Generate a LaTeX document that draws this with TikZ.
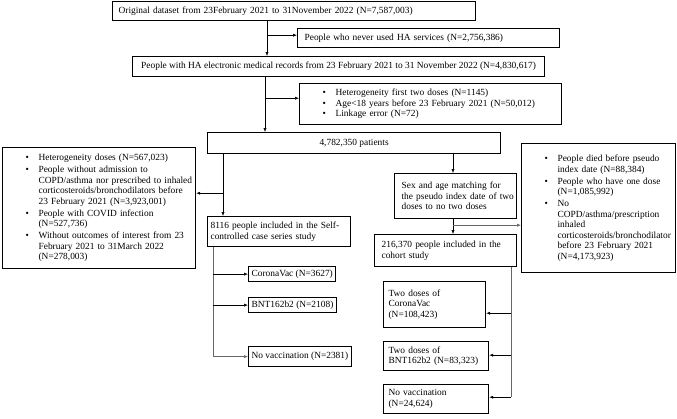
\documentclass[tikz,border=0pt]{standalone}
\usepackage{fontspec}
\setmainfont{Liberation Serif}
\usetikzlibrary{arrows.meta}
\tikzset{flow box/.style={draw,line width=1.2pt,rectangle,anchor=north west,inner xsep=6pt,inner ysep=1pt,align=left,font=\fontsize{9.4}{10.5}\selectfont},
    one line/.style={flow box,align=center},
    link/.style={line width=0.6pt},
    soft link/.style={line width=0.6pt,black!60},}
\newcommand{\bul}[1]{\mbox{\hspace*{17pt}\makebox[13pt][l]{\textbullet}#1}}
\newcommand{\bcont}[1]{\mbox{\hspace*{30pt}#1}}

\begin{document}
\begin{tikzpicture}[x=1pt,y=-1pt,>={Latex[length=4pt,width=3.2pt]}]
    \useasboundingbox (0,0) rectangle (677,418);

    % top of the flow
    \node[flow box,text width=351pt,minimum height=19pt] (orig) at (112,1) {Original dataset from 23February 2021 to 31November 2022 (N=7,587,003)};
    \node[flow box,text width=248pt,inner xsep=7pt,minimum height=19pt] (never) at (297,28) {People who never used HA services (N=2,756,386)};
    \node[one line,minimum width=412pt,minimum height=20pt] (ha) at (132,56) {People with HA electronic medical records from 23 February 2021 to 31 November 2022 (N=4,830,617)};
    \node[flow box,text width=250pt,minimum height=41pt] (excl) at (299,83) {\bul{Heterogeneity first two doses (N=1145)}\\
        \bul{Age<18 years before 23 February 2021 (N=50,012)}\\
        \bul{Linkage error (N=72)}};
    \node[one line,minimum width=293pt,minimum height=21pt] (pat) at (207,132) {4,782,350 patients};

    % exclusions at the sides
    \node[flow box,text width=181pt,minimum height=121pt] (leftx) at (2,147) {\bul{Heterogeneity doses (N=567,023)}\\[1.5pt]
        \bul{People without admission to}\\
        \bcont{COPD/asthma nor prescribed to inhaled}\\
        \bcont{corticosteroids/bronchodilators before}\\
        \bcont{23 February 2021 (N=3,923,001)}\\[1.5pt]
        \bul{People with COVID infection}\\
        \bcont{(N=527,736)}\\[1.5pt]
        \bul{Without outcomes of interest from 23}\\
        \bcont{February 2021 to 31March 2022}\\
        \bcont{(N=278,003)}};
    \node[flow box,text width=142pt,minimum height=129pt] (rightx) at (521,143) {\bul{People died before pseudo}\\
        \bcont{index date (N=88,384)}\\[1.5pt]
        \bul{People who have one dose}\\
        \bcont{(N=1,085,992)}\\[1.5pt]
        \bul{No}\\
        \bcont{COPD/asthma/prescription}\\
        \bcont{inhaled}\\
        \bcont{corticosteroids/bronchodilator}\\
        \bcont{before 23 February 2021}\\
        \bcont{(N=4,173,923)}};

    % self-controlled case series
    \node[flow box,text width=137pt,inner xsep=3pt,minimum height=30pt] (sccs) at (207,216) {\mbox{8116 people included in the Self-}\\controlled case series study};
    \node[one line,inner xsep=3pt,minimum width=87pt,minimum height=15pt] (cv) at (248,266) {CoronaVac (N=3627)};
    \node[one line,inner xsep=3pt,minimum width=87pt,minimum height=15pt] (bnt) at (248,297) {BNT162b2 (N=2108)};
    \node[one line,inner xsep=3pt,minimum width=101pt,minimum height=20pt] (nv) at (248,346) {No vaccination (N=2381)};

    % cohort
    \node[flow box,text width=108pt,inner xsep=7pt,minimum height=45pt] (sex) at (394,173) {Sex and age matching for\\\mbox{the pseudo index date of two}\\doses to no two doses};
    \node[flow box,text width=128pt,inner xsep=7pt,minimum height=32pt] (coh) at (374,234) {216,370 people included in the\\cohort study};
    \node[flow box,text width=92pt,inner xsep=5pt,minimum height=46pt] (cv2) at (383,281) {Two doses of\\CoronaVac\\(N=108,423)};
    \node[flow box,text width=95pt,inner xsep=5pt,minimum height=29pt] (bnt2) at (383,341) {Two doses of\\\mbox{BNT162b2 (N=83,323)}};
    \node[flow box,text width=95pt,inner xsep=5pt,minimum height=29pt] (nv2) at (383,384) {No vaccination\\(N=24,624)};

    % branch points
    \coordinate (a1) at ([xshift=155pt]orig.south west);
    \coordinate (a2) at ([yshift=-14pt]a1);
    \coordinate (b1) at ([xshift=133pt]ha.south west);
    \coordinate (b2) at ([yshift=-21pt]b1);
    \coordinate (c1) at ([xshift=16pt]pat.south west);
    \coordinate (c2) at ([yshift=-39pt]c1);
    \coordinate (c3) at ([xshift=246pt]pat.south west);
    \coordinate (d1) at ([xshift=59pt]sex.south west);
    \coordinate (d2) at ([yshift=-6pt]d1);
    \coordinate (e1) at ([xshift=6pt]sccs.south west);
    \coordinate (f1) at ([xshift=-6pt]coh.south east);
    \coordinate (f2) at ([yshift=-46pt]f1);
    \coordinate (f3) at ([yshift=-88pt]f1);
    \coordinate (f4) at ([yshift=-130pt]f1);

    \draw[link,->] (a1) -- (a1 |- ha.north);
    \draw[link,->] (a2) -- (a2 -| never.west);
    \draw[link,->] (b1) -- (b1 |- pat.north);
    \draw[link,->] (b2) -- (b2 -| excl.west);
    \draw[link,->] (c1) -- (c1 |- sccs.north);
    \draw[link,->] (c2) -- (c2 -| leftx.east);
    \draw[link,->] (c3) -- (c3 |- sex.north);
    \draw[link,->] (d1) -- (d1 |- coh.north);
    \draw[soft link,->] (d2) -- (d2 -| rightx.west);

    \draw[soft link] (e1) -- (e1 |- nv.west);
    \draw[link,->] (e1 |- cv.west) -- (cv.west);
    \draw[link,->] (e1 |- bnt.west) -- (bnt.west);
    \draw[soft link,->] (e1 |- nv.west) -- (nv.west);

    \draw[soft link] (f1) -- (f4);
    \draw[link,->] (f2) -- (f2 -| cv2.east);
    \draw[link,->] (f3) -- (f3 -| bnt2.east);
    \draw[link,->] (f4) -- (f4 -| nv2.east);
\end{tikzpicture}
\end{document}
